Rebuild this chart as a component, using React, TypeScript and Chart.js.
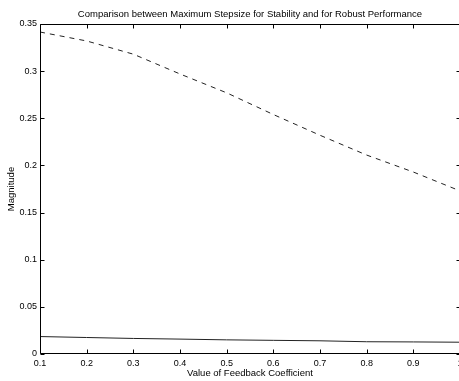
import React, { useEffect, useRef } from "react";
import { Chart, registerables } from "chart.js";

Chart.register(...registerables);

// Feedback coefficient values (x axis)
const coefficients = [0.1, 0.2, 0.3, 0.4, 0.5, 0.6, 0.7, 0.8, 0.9, 1.0];
// Upper dashed curve: maximum stepsize
const upperStepsize = [0.3415, 0.332, 0.318, 0.297, 0.277, 0.254, 0.232, 0.211, 0.193, 0.173];
// Lower solid curve: maximum stepsize
const lowerStepsize = [0.0185, 0.0175, 0.0165, 0.0158, 0.015, 0.0145, 0.014, 0.013, 0.0128, 0.0125];

const xTickValues = [0.1, 0.2, 0.3, 0.4, 0.5, 0.6, 0.7, 0.8, 0.9, 1];
const yTickValues = [0, 0.05, 0.1, 0.15, 0.2, 0.25, 0.3, 0.35];

const titleText = "Comparison between Maximum Stepsize for Stability and for Robust Performance";
const xTitleText = "Value of Feedback Coefficient";
const yTitleText = "Magnitude";

const FONT = "'Liberation Sans', Arial, Helvetica, sans-serif";

const fmt = (v: number) => String(Number(v.toFixed(3)));

const matlabAxes = {
  id: "matlabAxes",
  afterDatasetsDraw(chart: any) {
    const { ctx, chartArea, scales } = chart;
    const { left, right, top, bottom } = chartArea;
    const xs = scales.x;
    const ys = scales.y;
    const L = Math.round(left) + 0.5;
    const R = Math.round(right) + 0.5;
    const T = Math.round(top) + 0.5;
    const B = Math.round(bottom) - 0.5;
    const tl = 4;
    ctx.save();
    ctx.strokeStyle = "#000";
    ctx.lineWidth = 1;
    ctx.setLineDash([]);
    ctx.beginPath();
    ctx.moveTo(L, T);
    ctx.lineTo(R, T);
    ctx.lineTo(R, B);
    ctx.lineTo(L, B);
    ctx.closePath();
    for (const v of xTickValues) {
      const px = Math.round(xs.getPixelForValue(v)) + 0.5;
      ctx.moveTo(px, B);
      ctx.lineTo(px, B - tl);
      ctx.moveTo(px, T);
      ctx.lineTo(px, T + tl);
    }
    for (const v of yTickValues) {
      const py = Math.round(ys.getPixelForValue(v)) + 0.5;
      ctx.moveTo(L, py);
      ctx.lineTo(L + tl, py);
      ctx.moveTo(R, py);
      ctx.lineTo(R - tl, py);
    }
    ctx.stroke();
    // title centred over the plot area
    ctx.fillStyle = "#000";
    ctx.font = `9.5px ${FONT}`;
    ctx.textAlign = "center";
    ctx.textBaseline = "middle";
    ctx.fillText(titleText, (left + right) / 2, 14.5);
    ctx.restore();
  },
};

export default function App() {
  const canvasRef = useRef<HTMLCanvasElement | null>(null);

  useEffect(() => {
    const canvas = canvasRef.current;
    if (!canvas) return;
    const chart = new Chart(canvas, {
      type: "line",
      data: {
        datasets: [
          {
            label: "upper",
            data: coefficients.map((c, i) => ({ x: c, y: upperStepsize[i] })),
            borderColor: "#222",
            borderWidth: 1,
            borderDash: [5, 5],
            pointRadius: 0,
            tension: 0,
            fill: false,
          },
          {
            label: "lower",
            data: coefficients.map((c, i) => ({ x: c, y: lowerStepsize[i] })),
            borderColor: "#222",
            borderWidth: 1,
            pointRadius: 0,
            tension: 0,
            fill: false,
          },
        ],
      },
      options: {
        animation: false,
        responsive: false,
        devicePixelRatio: 1,
        layout: { padding: { left: 0, right: 20, top: 24, bottom: 0 } },
        plugins: {
          legend: { display: false },
          tooltip: { enabled: false },
          title: { display: false },
        },
        scales: {
          x: {
            type: "linear",
            min: 0.1,
            max: 1,
            afterBuildTicks: (s: any) => {
              s.ticks = xTickValues.map((v) => ({ value: v }));
            },
            afterFit: (s: any) => {
              s.height = 27;
              s.paddingLeft = 0;
              s.paddingRight = 0;
            },
            grid: { display: false, drawTicks: false },
            border: { display: false },
            ticks: {
              color: "#000",
              autoSkip: false,
              maxRotation: 0,
              padding: 4,
              font: { family: FONT, size: 9 },
              callback: (v: any) => fmt(Number(v)),
            },
            title: {
              display: true,
              text: xTitleText,
              color: "#000",
              font: { family: FONT, size: 9.5 },
              padding: { top: 0, bottom: 1.5 },
            },
          },
          y: {
            type: "linear",
            min: 0,
            max: 0.35,
            afterBuildTicks: (s: any) => {
              s.ticks = yTickValues.map((v) => ({ value: v }));
            },
            afterFit: (s: any) => {
              s.width = 40;
              s.paddingTop = 0;
              s.paddingBottom = 0;
            },
            grid: { display: false, drawTicks: false },
            border: { display: false },
            ticks: {
              color: "#000",
              autoSkip: false,
              padding: 3,
              font: { family: FONT, size: 9 },
              callback: (v: any) => fmt(Number(v)),
            },
            title: {
              display: true,
              text: yTitleText,
              color: "#000",
              font: { family: FONT, size: 9.5 },
              padding: { top: 6, bottom: 0 },
            },
          },
        },
      },
      plugins: [matlabAxes],
    } as any);
    return () => chart.destroy();
  }, []);

  return (
    <div style={{ position: "fixed", left: 0, top: 0, width: 480, height: 381, background: "#fff" }}>
      <canvas ref={canvasRef} width={480} height={381} style={{ display: "block" }} />
    </div>
  );
}
